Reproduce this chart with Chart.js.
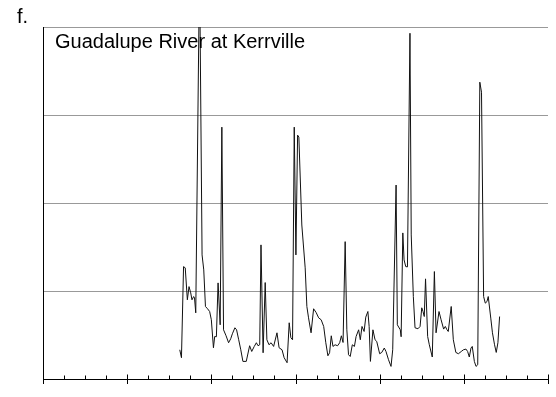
<!DOCTYPE html>
<html>
<head>
<meta charset="utf-8">
<script src="https://cdn.jsdelivr.net/npm/chart.js@4/dist/chart.umd.min.js"></script>
<style>
  html, body { margin: 0; padding: 0; background: #fff; }
  canvas { display: block; }
</style>
</head>
<body>
<canvas id="flowChart" width="556" height="397"></canvas>
<script>
// panel label and station name
const panelLabel = "f.";
const stationName = "Guadalupe River at Kerrville";

// (year, flow in axis units)
const years = [
  1932.5, 1932.9, 1933.4, 1933.8, 1934.3, 1934.7, 1935.1, 1935.4, 1935.8, 1936.0,
  1936.3, 1937.2, 1937.8, 1938.2, 1938.6, 1939.1, 1939.6, 1940.0, 1940.5, 1940.8,
  1941.2, 1941.6, 1942.1, 1942.5, 1942.9, 1943.5, 1944.1, 1944.6, 1945.0, 1945.6,
  1946.0, 1946.5, 1947.0, 1947.5, 1948.3, 1949.1, 1949.6, 1950.2, 1950.7, 1951.1,
  1951.5, 1951.8, 1952.3, 1952.8, 1953.2, 1953.7, 1954.2, 1954.8, 1955.6, 1956.1,
  1956.8, 1957.3, 1958.0, 1958.5, 1958.9, 1959.3, 1959.7, 1960.1, 1960.5, 1960.8,
  1961.5, 1962.3, 1962.7, 1963.1, 1963.7, 1964.3, 1964.9, 1965.5, 1966.1, 1966.7,
  1967.2, 1967.7, 1968.1, 1968.5, 1968.9, 1969.4, 1970.0, 1970.5, 1970.9, 1971.3,
  1971.8, 1972.2, 1972.6, 1973.0, 1973.5, 1974.0, 1974.4, 1975.0, 1975.4, 1975.8,
  1976.3, 1976.7, 1977.2, 1977.5, 1977.8, 1978.4, 1978.9, 1979.3, 1980.0, 1980.5,
  1981.1, 1981.5, 1982.1, 1982.7, 1983.1, 1983.9, 1984.2, 1984.9, 1985.1, 1985.5,
  1985.8, 1986.2, 1986.6, 1987.2, 1987.5, 1988.0, 1988.4, 1989.1, 1989.6, 1990.0,
  1990.3, 1990.6, 1990.9, 1991.4, 1991.8, 1992.5, 1993.0, 1993.4, 1994.1, 1994.6,
  1995.2, 1995.6, 1996.0, 1996.3, 1997.0, 1997.5, 1998.1, 1998.7, 1999.4, 1999.9,
  2000.5, 2000.9, 2001.3, 2001.7, 2002.0, 2002.5, 2002.9, 2003.3, 2003.8, 2004.2,
  2004.7, 2005.1, 2005.5, 2005.8, 2006.4, 2006.8, 2007.3, 2007.7, 2008.1, 2008.5
];
const flows = [
  33.2, 24.2, 127.7, 126.3, 90.0, 105.0, 97.9, 90.0, 93.7, 92.2,
  75.2, 470, 141.0, 124.0, 82.4, 79.8, 76.7, 67.3, 35.5, 48.3,
  48.0, 109.2, 61.6, 286.2, 55.9, 49.1, 41.2, 45.7, 51.4, 58.2,
  55.9, 44.6, 33.2, 20.0, 20.0, 37.8, 31.3, 37.0, 41.2, 37.8,
  38.9, 152.4, 29.8, 109.6, 44.6, 38.9, 41.2, 37.0, 52.5, 35.5,
  33.2, 24.2, 18.5, 63.9, 46.9, 44.6, 286.2, 141.0, 277.1, 274.9,
  175.0, 126.3, 82.4, 69.5, 52.5, 79.8, 75.6, 69.5, 67.3, 59.7,
  41.2, 26.4, 29.8, 49.1, 37.0, 38.9, 37.8, 41.2, 49.1, 41.5,
  156.1, 55.9, 27.6, 25.6, 38.9, 37.0, 48.3, 55.9, 44.6, 59.7,
  54.0, 70.3, 76.7, 59.7, 20.0, 55.9, 44.6, 42.7, 28.7, 30.2,
  35.2, 31.3, 21.9, 14.3, 33.2, 220.4, 61.6, 55.9, 48.0, 166.0,
  135.3, 127.7, 127.4, 392.9, 163.7, 93.7, 58.2, 57.1, 59.7, 80.9,
  76.7, 71.0, 113.8, 48.3, 38.9, 25.0, 122.1, 52.5, 76.7, 67.3,
  56.7, 59.7, 55.9, 54.0, 82.4, 44.6, 30.2, 28.7, 31.3, 33.2,
  34.0, 31.3, 25.0, 35.2, 37.0, 20.0, 14.3, 16.2, 337.3, 325.9,
  93.7, 86.2, 88.0, 93.7, 69.2, 52.5, 38.9, 30.2, 41.2, 71.0
];

// axis ranges
const xMin = 1900, xMax = 2020, xMajor = 20, xMinor = 5;
const yMin = 0, yMax = 400, yStep = 100;

// major / minor tick marks on the bottom axis + the two text labels
const decorations = {
  id: "decorations",
  afterDraw(chart) {
    const ctx = chart.ctx;
    const xs = chart.scales.x;
    const bottom = chart.chartArea.bottom;
    ctx.save();
    ctx.strokeStyle = "#000";
    ctx.lineWidth = 1;
    ctx.beginPath();
    for (let v = xMin; v <= xMax; v += xMinor) {
      const px = Math.round(xs.getPixelForValue(v)) + 0.5;
      if ((v - xMin) % xMajor === 0) {
        ctx.moveTo(px, bottom - 4.5);
        ctx.lineTo(px, bottom + 5);
      } else {
        ctx.moveTo(px, bottom - 3.5);
        ctx.lineTo(px, bottom);
      }
    }
    ctx.stroke();

    ctx.fillStyle = "#000";
    ctx.font = "20px 'Liberation Sans', Arial, sans-serif";
    ctx.textBaseline = "alphabetic";
    ctx.fillText(panelLabel, 17, 23);
    ctx.fillText(stationName, chart.chartArea.left + 12, 48);
    ctx.restore();
  }
};

new Chart(document.getElementById("flowChart"), {
  type: "line",
  data: {
    datasets: [{
      data: years.map((x, i) => ({ x: x, y: flows[i] })),
      borderColor: "#111",
      borderWidth: 1,
      pointRadius: 0,
      tension: 0
    }]
  },
  options: {
    responsive: false,
    animation: false,
    devicePixelRatio: 1,
    layout: { padding: { left: 43, right: 8, top: 27, bottom: 18 } },
    plugins: { legend: { display: false }, tooltip: { enabled: false } },
    scales: {
      x: {
        type: "linear",
        min: xMin,
        max: xMax,
        ticks: { display: false, stepSize: xMinor },
        grid: { display: false, drawTicks: false },
        border: { display: true, color: "#000", width: 1 }
      },
      y: {
        min: yMin,
        max: yMax,
        ticks: { display: false, stepSize: yStep },
        grid: {
          drawTicks: false,
          color: c => (c.tick && c.tick.value === yMin ? "rgba(0,0,0,0)" : "#999"),
          lineWidth: 1
        },
        border: { display: true, color: "#000", width: 1 }
      }
    }
  },
  plugins: [decorations]
});
</script>
</body>
</html>
